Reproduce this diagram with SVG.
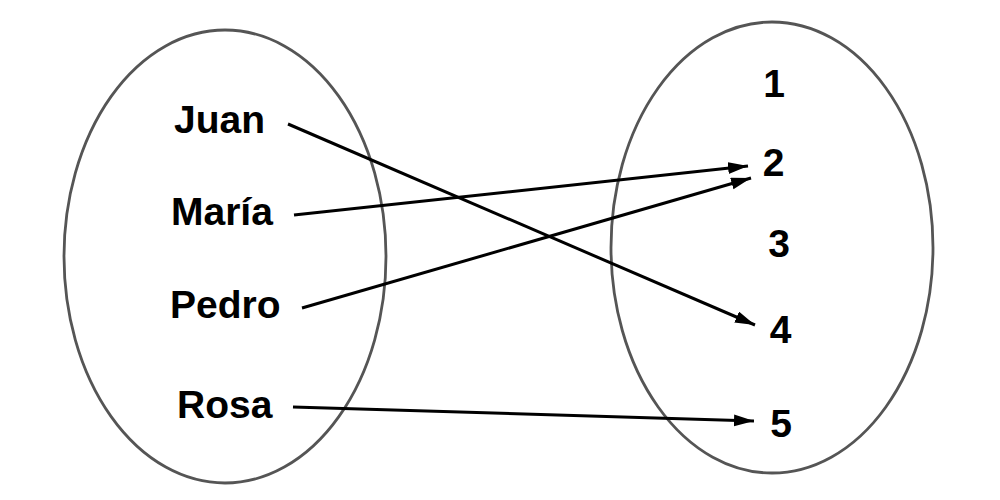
<svg xmlns="http://www.w3.org/2000/svg" width="1000" height="500" viewBox="0 0 1000 500">
<style>
.set{fill:none;stroke:#555;stroke-width:2.8}
.lbl{font-family:"Liberation Sans",Arial,sans-serif;font-weight:bold;font-size:39px;fill:#000}
.num{text-anchor:middle}
.edge{stroke:#000;stroke-width:3;fill:none;marker-end:url(#arr)}
</style>
<defs>
<marker id="arr" markerUnits="userSpaceOnUse" markerWidth="22" markerHeight="14" refX="20" refY="6" orient="auto">
<path d="M0,0 L20,6 L0,12 Z" fill="#000"/>
</marker>
</defs>
<rect width="1000" height="500" fill="#fff"/>
<g id="domain">
<ellipse class="set" cx="225" cy="256.5" rx="161" ry="226.5"/>
</g>
<g id="codomain">
<ellipse class="set" cx="772" cy="247.5" rx="161" ry="225.5"/>
</g>
<g id="juan"><text class="lbl" x="174" y="133">Juan</text></g>
<g id="maria"><text class="lbl" x="171" y="225">María</text></g>
<g id="pedro"><text class="lbl" x="170" y="318">Pedro</text></g>
<g id="rosa"><text class="lbl" x="177" y="418">Rosa</text></g>
<g id="n1"><text class="lbl num" x="774" y="97">1</text></g>
<g id="n2"><text class="lbl num" x="773.5" y="176">2</text></g>
<g id="n3"><text class="lbl num" x="779" y="257">3</text></g>
<g id="n4"><text class="lbl num" x="780.5" y="343">4</text></g>
<g id="n5"><text class="lbl num" x="781" y="437">5</text></g>
<g id="connectors">
<line class="edge" x1="288" y1="124" x2="755" y2="325"/>
<line class="edge" x1="294" y1="215" x2="748" y2="166"/>
<line class="edge" x1="302" y1="308" x2="751" y2="178"/>
<line class="edge" x1="293" y1="407" x2="754" y2="421"/>
</g>
</svg>
